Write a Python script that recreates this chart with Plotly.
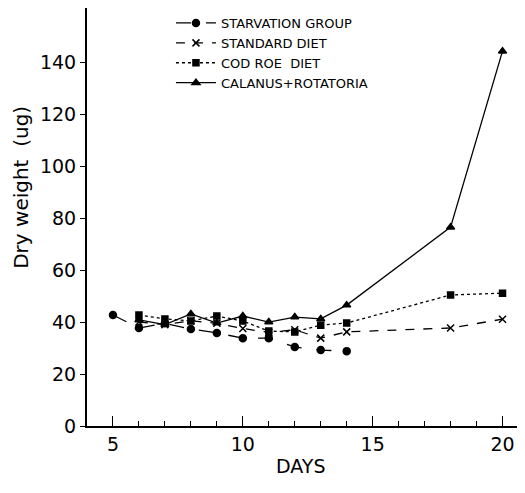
import plotly.graph_objects as go

days_starv = [5, 6, 7, 8, 9, 10, 11, 12, 13, 14]
starvation = [42.7, 37.7, 39.5, 37.3, 35.8, 33.8, 33.8, 30.4, 29.2, 28.8]

days_fed = [6, 7, 8, 9, 10, 11, 12, 13, 14, 18, 20]
standard = [40.0, 39.0, 40.5, 39.5, 37.5, 36.0, 37.0, 33.8, 36.2, 37.7, 41.1]
cod_roe = [42.7, 41.2, 40.4, 42.3, 40.4, 36.5, 36.2, 38.8, 39.6, 50.4, 51.1]
calanus = [40.8, 39.0, 43.1, 39.6, 42.3, 40.0, 41.9, 41.2, 46.5, 76.5, 144.2]

names = ["STARVATION GROUP", "STANDARD DIET", "COD ROE  DIET", "CALANUS+ROTATORIA"]
y_ticks = [0, 20, 40, 60, 80, 100, 120, 140]
x_ticks = [5, 10, 15, 20]

fig = go.Figure()
series = [
    (days_starv, starvation, "longdash", "circle", 7),
    (days_fed, standard, "dash", "x-thin", 7),
    (days_fed, cod_roe, "dot", "square", 6),
    (days_fed, calanus, "solid", "triangle-up", 7),
]
for name, (xs, ys, dash, sym, sz) in zip(names, series):
    fig.add_trace(go.Scatter(
        x=xs, y=ys, name=name, mode="lines+markers",
        line=dict(color="black", width=1.3, dash=dash),
        marker=dict(symbol=sym, size=sz, color="black",
                    line=dict(color="black", width=1.5)),
    ))

font = "DejaVu Sans, Verdana, sans-serif"
# page has an 8px body margin, so the figure is sized to fit the 525x493 window
fig.update_layout(
    width=517, height=485,
    margin=dict(l=79, r=3, t=0, b=67),
    plot_bgcolor="white", paper_bgcolor="white",
    font=dict(family=font, color="black"),
    showlegend=True,
    legend=dict(x=0.193, y=1.0, xanchor="left", yanchor="top",
                bgcolor="rgba(0,0,0,0)", font=dict(size=13, family=font),
                tracegroupgap=0, itemwidth=40),
    xaxis=dict(range=[4.0, 20.75], tickvals=x_ticks, ticks="inside", ticklen=10,
               tickwidth=1.2, tickcolor="black",
               showline=True, linecolor="black", linewidth=2,
               showgrid=False, zeroline=False, automargin=False,
               tickfont=dict(size=19),
               minor=dict(dtick=1, tick0=5, ticks="inside", ticklen=5, tickcolor="black", showgrid=False)),
    yaxis=dict(range=[0, 160.8], tickvals=y_ticks, ticks="outside", ticklen=5,
               tickwidth=1.2, tickcolor="black",
               showline=True, linecolor="black", linewidth=2,
               showgrid=False, zeroline=False, automargin=False,
               tickfont=dict(size=19)),
    annotations=[
        dict(text="Dry weight\u00a0\u00a0(ug)", xref="paper", yref="paper",
             x=-0.152, y=0.572, textangle=-90, showarrow=False,
             xanchor="center", yanchor="middle", font=dict(size=20)),
        dict(text="DAYS", xref="paper", yref="paper",
             x=0.493, y=-0.096, showarrow=False,
             xanchor="center", yanchor="middle", font=dict(size=19)),
    ],
)
fig.write_html("out.html")
